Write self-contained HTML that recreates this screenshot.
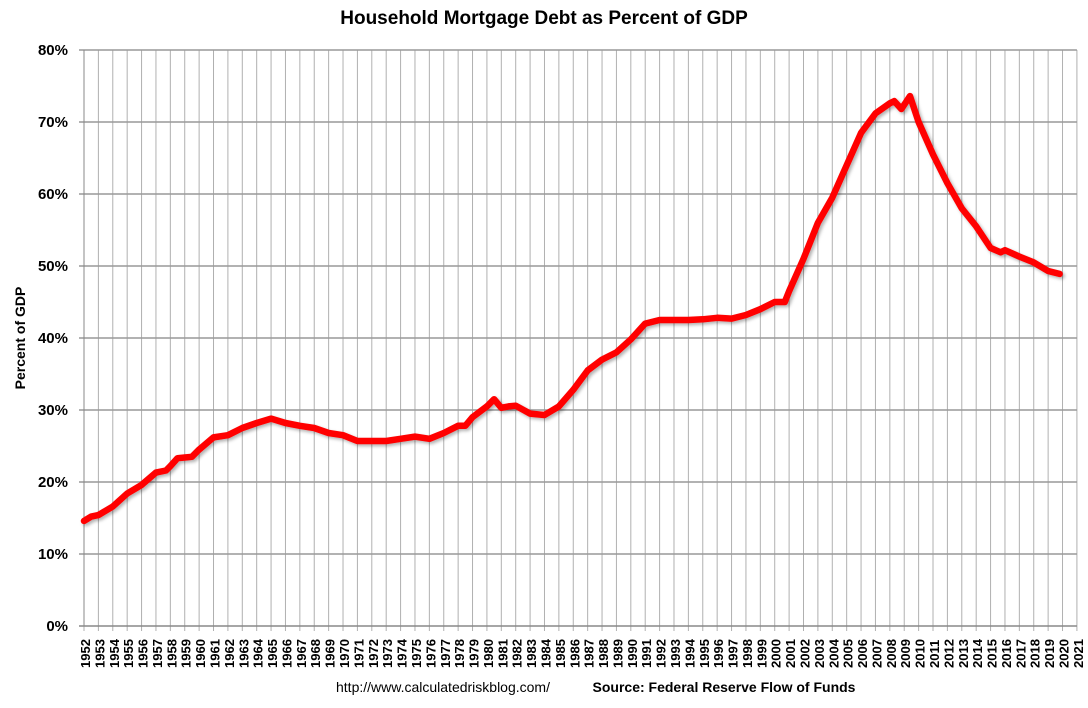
<!DOCTYPE html>
<html><head><meta charset="utf-8"><style>
body{margin:0;background:#fff;font-family:"Liberation Sans",Calibri,sans-serif;}
svg text{font-family:"Liberation Sans",sans-serif;}
</style></head><body>
<svg id="chart" width="1088" height="703">
<defs><filter id="sh" x="-5%" y="-5%" width="110%" height="110%"><feDropShadow dx="2" dy="2" stdDeviation="1.5" flood-color="#000" flood-opacity="0.3"/></filter></defs>
<text x="544" y="24" text-anchor="middle" font-size="19" font-weight="bold">Household Mortgage Debt as Percent of GDP</text>
<g id="grid"></g><g id="yt"></g><g id="xt"></g>
<text transform="translate(25,338) rotate(-90)" text-anchor="middle" font-size="14" font-weight="bold">Percent of GDP</text>
<path id="line" fill="none" stroke="#ff0000" stroke-width="6.5" stroke-linejoin="round" stroke-linecap="round" filter="url(#sh)"/>
<text x="443" y="692" text-anchor="middle" font-size="14">http://www.calculatedriskblog.com/</text>
<text x="724" y="692" text-anchor="middle" font-size="14" font-weight="bold">Source: Federal Reserve Flow of Funds</text>
</svg>
<script>
const years=[1952,1952.5,1953,1954,1955,1956,1957,1957.7,1958,1958.5,1959,1959.5,1960,1961,1962,1963,1964,1965,1966,1967,1968,1969,1970,1971,1972,1973,1974,1975,1976,1977,1978,1978.5,1979,1980,1980.5,1981,1981.5,1982,1983,1984,1985,1986,1987,1988,1989,1990,1991,1992,1993,1994,1995,1996,1997,1998,1999,2000,2000.7,2001,2002,2003,2004,2005,2006,2007,2008,2008.3,2008.8,2009.4,2010,2011,2012,2013,2014,2015,2015.7,2016,2017,2018,2019,2019.8];
const values=[14.6,15.2,15.4,16.6,18.4,19.6,21.3,21.6,22.2,23.3,23.4,23.5,24.5,26.2,26.5,27.5,28.2,28.8,28.2,27.8,27.5,26.8,26.5,25.7,25.7,25.7,26.0,26.3,26.0,26.8,27.8,27.8,29.0,30.5,31.5,30.3,30.5,30.6,29.5,29.3,30.5,32.8,35.5,37.0,38.0,39.8,42.0,42.5,42.5,42.5,42.6,42.8,42.7,43.2,44.0,45.0,45.0,46.5,51.0,56.0,59.5,64.0,68.5,71.2,72.6,72.9,71.8,73.6,70.0,65.5,61.5,58.0,55.5,52.5,51.9,52.2,51.3,50.5,49.3,48.9];
const yTicks=[0,10,20,30,40,50,60,70,80];
const xLabels=[];for(let y=1952;y<=2021;y++)xLabels.push(y);
const X=y=>84+(y-1952)*14.39, Y=v=>626-v*7.2;
const ns="http://www.w3.org/2000/svg";
const g=document.getElementById('grid'),yt=document.getElementById('yt'),xt=document.getElementById('xt');
function mk(tag,attrs,parent){const e=document.createElementNS(ns,tag);for(const k in attrs)e.setAttribute(k,attrs[k]);parent.appendChild(e);return e;}
xLabels.forEach(yr=>{
 const l=mk('line',{x1:X(yr),x2:X(yr),y1:50,y2:631,stroke:'#b0b0b0','stroke-width':1},g);
 
 
 const t=mk('text',{transform:`translate(${X(yr)+6},668) rotate(-90)`,'font-size':13,'font-weight':'bold'},xt);
 t.textContent=yr;
 
 
});
yTicks.forEach(v=>{
 const l=mk('line',{x1:79,x2:X(2021),y1:Y(v),y2:Y(v),stroke:v==0?'#888':'#999','stroke-width':1.5},g);
 
 
 const t=mk('text',{x:68,y:Y(v)+5,'text-anchor':'end','font-size':15,'font-weight':'bold'},yt);
 t.textContent=v+'%';
 
 
});
mk('line',{x1:84,x2:84,y1:50,y2:626,stroke:'#888','stroke-width':1},g);
document.getElementById('line').setAttribute('d',years.map((y,i)=>(i?'L':'M')+X(y).toFixed(1)+','+Y(values[i]).toFixed(1)).join(''));
</script>
</body></html>
